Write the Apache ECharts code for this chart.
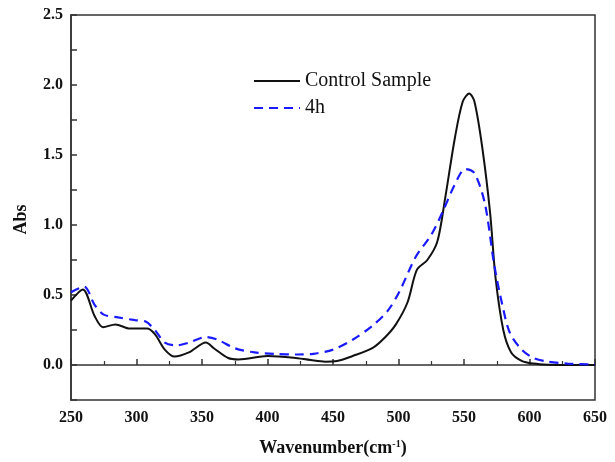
<!DOCTYPE html>
<html><head><meta charset="utf-8">
<script src="https://cdn.jsdelivr.net/npm/echarts@6/dist/echarts.min.js"></script>
<style>html,body{margin:0;padding:0;background:#fff}#c{width:615px;height:462px}</style>
</head><body><div id="c"></div>
<script>
const controlX = [250,259,268,274.5,284,295,308,314,321.6,329,340,353,359,370,378,400,420,433,444,453,465,480,490,498,507,514,522,529.6,535.6,543,549,554,558,564,570,574,580,586,594,603,614,630,650];
const controlY = [0.46,0.54,0.35,0.27,0.29,0.26,0.26,0.22,0.11,0.06,0.09,0.16,0.12,0.05,0.04,0.064,0.052,0.035,0.024,0.028,0.064,0.12,0.2,0.29,0.45,0.68,0.75,0.88,1.19,1.62,1.88,1.94,1.88,1.55,1.08,0.63,0.25,0.09,0.03,0.01,0.002,0.0,0.0];
const h4X = [250,260,268,275,286,299,307,314,321.6,330.6,340,353,362,375,390,405,423,435,450,465,480,492,501,513,525,534,543,551,558,566,573,579,585,594,603,614,629,650];
const h4Y = [0.52,0.56,0.43,0.36,0.34,0.32,0.31,0.25,0.16,0.14,0.16,0.2,0.18,0.12,0.09,0.08,0.075,0.08,0.11,0.18,0.28,0.39,0.53,0.77,0.93,1.10,1.29,1.40,1.37,1.15,0.72,0.44,0.23,0.11,0.05,0.024,0.01,0.003];
const seriesNames = ['Control Sample','4h'];

const chart = echarts.init(document.getElementById('c'));
const font = 'Liberation Serif, Times New Roman, serif';
const axisCol = '#333';
chart.setOption({
  animation:false,
  grid:{left:71,right:20,top:15,bottom:58,show:true,borderColor:axisCol,borderWidth:1.5,containLabel:false},
  legend:{orient:'vertical',left:248,top:66,itemWidth:46,itemHeight:14,itemGap:7,
    itemStyle:{opacity:0},
    textStyle:{fontFamily:font,fontSize:20,color:'#111'},
    data:seriesNames},
  xAxis:{type:'value',min:250,max:650,interval:50,
    name:'Wavenumber(cm{s|-1})',nameLocation:'middle',nameGap:39,
    nameTextStyle:{fontFamily:font,fontSize:18,fontWeight:'bold',color:'#111',rich:{s:{fontSize:10,fontWeight:'bold',fontFamily:font,verticalAlign:'top',padding:[0,0,8,0]}}},
    axisLine:{lineStyle:{color:axisCol,width:1.5}},
    axisTick:{inside:true,length:6,lineStyle:{color:axisCol,width:1.5}},
    minorTick:{show:true,splitNumber:2,length:4,lineStyle:{color:axisCol,width:1.2}},
    splitLine:{show:false},
    axisLabel:{fontFamily:font,fontSize:16,fontWeight:'bold',color:'#111',margin:10}},
  yAxis:{type:'value',min:-0.25,max:2.5,interval:0.25,
    name:'Abs',nameLocation:'middle',nameGap:41,
    nameTextStyle:{fontFamily:font,fontSize:18,fontWeight:'bold',color:'#111',padding:[0,24,0,0]},
    axisLine:{lineStyle:{color:axisCol,width:1.5}},
    axisTick:{inside:true,length:6,lineStyle:{color:axisCol,width:1.5}},
    splitLine:{show:false},
    axisLabel:{fontFamily:font,fontSize:16,fontWeight:'bold',color:'#111',margin:8,
      formatter:v=>{const r=Math.round(v*100);return (r%50===0&&r>=0)?v.toFixed(1):'';}}},
  series:[
    {name:seriesNames[0],type:'line',smooth:0.3,symbol:'none',
      data:controlX.map((x,i)=>[x,controlY[i]]),
      lineStyle:{color:'#111',width:2},itemStyle:{color:'#111'}},
    {name:seriesNames[1],type:'line',smooth:0.3,symbol:'none',
      data:h4X.map((x,i)=>[x,h4Y[i]]),
      lineStyle:{color:'#1a1aff',width:2.2,type:[9,6]},itemStyle:{color:'#1a1aff'}}
  ]
});
</script></body></html>
